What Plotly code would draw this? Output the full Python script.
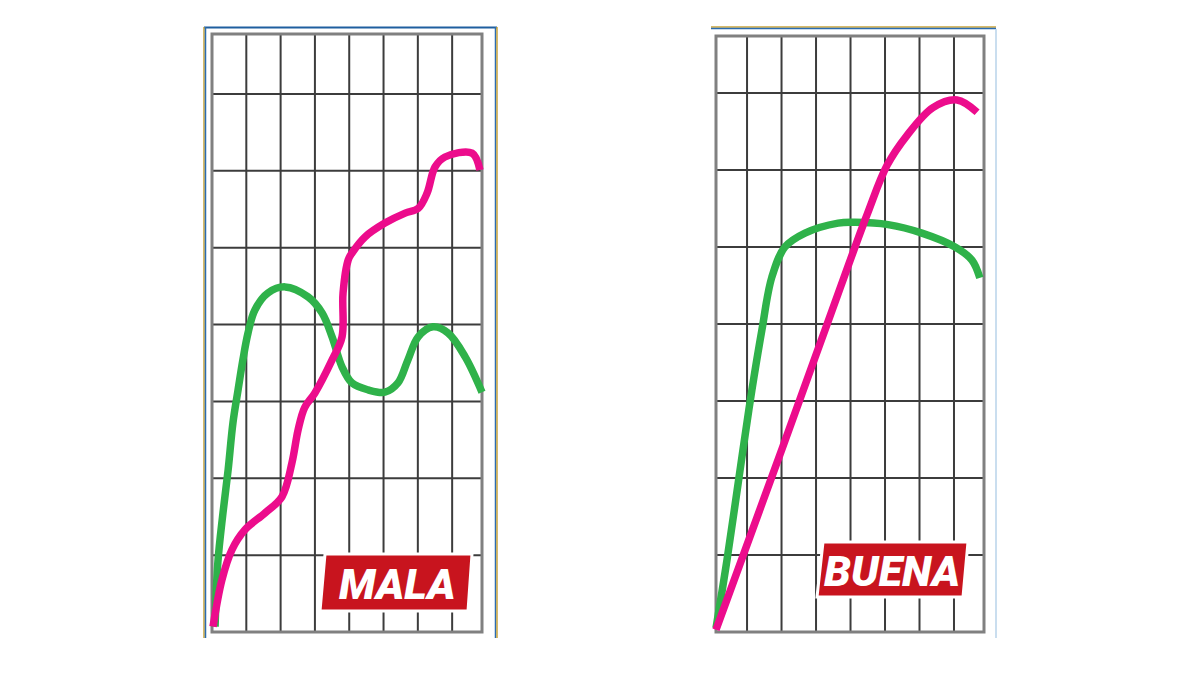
import plotly.graph_objects as go
from plotly.subplots import make_subplots

# curve readings in grid units (1 unit = one grid cell)
mala_verde_x = [0.09, 0.17, 0.32, 0.47, 0.61, 0.76, 0.90, 1.05, 1.25, 1.63, 2.13, 2.80, 3.21, 3.50,
                3.79, 4.08, 4.55, 5.04, 5.42, 5.71, 6.01, 6.44, 6.88, 7.38, 7.87]
mala_verde_y = [0.07, 0.90, 1.55, 2.11, 2.72, 3.15, 3.54, 3.89, 4.19, 4.41, 4.49, 4.36, 4.15, 3.84,
                3.45, 3.24, 3.15, 3.12, 3.24, 3.54, 3.84, 3.97, 3.89, 3.58, 3.12]
mala_rosa_x = [0.03, 0.29, 0.58, 0.96, 1.55, 2.04, 2.33, 2.51, 2.70, 3.00, 3.50, 3.79, 3.82, 3.97,
               4.08, 4.46, 5.04, 5.63, 6.01, 6.27, 6.50, 6.79, 7.58, 7.81]
mala_rosa_y = [0.07, 0.68, 1.07, 1.33, 1.55, 1.76, 2.20, 2.63, 2.92, 3.11, 3.54, 3.84, 4.41, 4.84,
               4.93, 5.14, 5.32, 5.45, 5.51, 5.71, 6.05, 6.18, 6.23, 6.01]

buena_verde_x = [0.0, 0.32, 0.78, 1.04, 1.33, 1.62, 2.00, 2.58, 3.54, 4.03, 4.99, 5.97, 6.93, 7.42, 7.65]
buena_verde_y = [0.05, 0.94, 2.36, 3.14, 3.92, 4.61, 5.00, 5.18, 5.31, 5.32, 5.29, 5.18, 5.00, 4.83, 4.60]
buena_rosa_x = [0.0, 1.94, 3.20, 4.38, 4.96, 5.54, 6.29, 6.99, 7.57]
buena_rosa_y = [0.03, 2.41, 3.97, 5.42, 6.06, 6.45, 6.81, 6.91, 6.75]

etiquetas = ["MALA", "BUENA"]

VERDE = "#2fb24a"
ROSA = "#ec0c8c"
W, H = 1200, 675
OFF = 8  # page body margin


def px(x, y):
    return (x - OFF) / W, 1 - (y - OFF) / H


fig = make_subplots(rows=1, cols=2)

fig.add_trace(go.Scatter(x=mala_verde_x, y=mala_verde_y, mode="lines", line_shape="spline",
                         line=dict(color=VERDE, width=7.5)), row=1, col=1)
fig.add_trace(go.Scatter(x=mala_rosa_x, y=mala_rosa_y, mode="lines", line_shape="spline",
                         line=dict(color=ROSA, width=7.5)), row=1, col=1)
fig.add_trace(go.Scatter(x=buena_verde_x, y=buena_verde_y, mode="lines", line_shape="spline",
                         line=dict(color=VERDE, width=7.5)), row=1, col=2)
fig.add_trace(go.Scatter(x=buena_rosa_x, y=buena_rosa_y, mode="lines", line_shape="spline",
                         line=dict(color=ROSA, width=7.5)), row=1, col=2)

ax = dict(showgrid=False, zeroline=False, showticklabels=False, ticks="", showline=False,
          fixedrange=True)

# left panel: grid 212..482 x 34..632 px, padded 6 px
fig.update_xaxes(ax, range=[-6 / 34.3, 7.87 + 6 / 34.3],
                 domain=[px(206, 0)[0], px(488, 0)[0]], row=1, col=1)
fig.update_yaxes(ax, range=[-6 / 76.9, 7.78 + 6 / 76.9],
                 domain=[px(0, 638)[1], px(0, 28)[1]], row=1, col=1)
# right panel: grid 716..984 x 36..632 px
fig.update_xaxes(ax, range=[-6 / 34.5, 7.77 + 6 / 34.5],
                 domain=[px(710, 0)[0], px(990, 0)[0]], row=1, col=2)
fig.update_yaxes(ax, range=[-6 / 77, 7.74 + 6 / 77],
                 domain=[px(0, 638)[1], px(0, 30)[1]], row=1, col=2)

shapes = []


def rejilla(xr, yr, xmax, ymax, xs, ys):
    for v in xs:
        shapes.append(dict(type="line", xref=xr, yref=yr, x0=v, x1=v, y0=0, y1=ymax,
                           line=dict(color="#3c3c3c", width=2), layer="below"))
    for v in ys:
        shapes.append(dict(type="line", xref=xr, yref=yr, x0=0, x1=xmax, y0=v, y1=v,
                           line=dict(color="#3c3c3c", width=2), layer="below"))
    shapes.append(dict(type="rect", xref=xr, yref=yr, x0=0, x1=xmax, y0=0, y1=ymax,
                       line=dict(color="#808080", width=3), layer="below"))


rejilla("x", "y", 7.87, 7.78, range(1, 8), range(1, 8))
rejilla("x2", "y2", 7.77, 7.74, [0.9 + i for i in range(7)], range(1, 8))


def linea(x0, y0, x1, y1, color, width):
    a = px(x0, y0)
    b = px(x1, y1)
    shapes.append(dict(type="line", xref="paper", yref="paper", x0=a[0], y0=a[1], x1=b[0], y1=b[1],
                       line=dict(color=color, width=width)))


# frame around left panel
linea(204, 27.5, 497, 27.5, "#1f5f9f", 2)
linea(204, 27, 204, 638, "#c9a33a", 1.5)
linea(205.5, 27, 205.5, 638, "#2b6cb0", 1.5)
linea(495.5, 27, 495.5, 638, "#2b6cb0", 1.5)
linea(497, 27, 497, 638, "#c9a33a", 1.5)
# frame around right panel
linea(711, 27, 996, 27, "#c9a33a", 1.5)
linea(711, 28.5, 996, 28.5, "#2b6cb0", 1.5)
linea(996, 29, 996, 638, "#b9d3ea", 1.5)


def caja(pts):
    p = [px(x, y) for x, y in pts]
    path = "M {} {} L {} {} L {} {} L {} {} Z".format(p[0][0], p[0][1], p[1][0], p[1][1],
                                                      p[2][0], p[2][1], p[3][0], p[3][1])
    shapes.append(dict(type="path", xref="paper", yref="paper", path=path,
                       fillcolor="#c8141e", line=dict(color="white", width=3)))


caja([(325, 554), (472, 554), (468, 611), (320, 611)])
caja([(823, 542), (968, 542), (963, 597), (817, 597)])

annotations = []
for txt, (cx, cy) in zip(etiquetas, [(397, 584), (892, 571)]):
    x, y = px(cx, cy)
    annotations.append(dict(x=x, y=y, xref="paper", yref="paper", text=txt,
                            showarrow=False, xanchor="center", yanchor="middle",
                            font=dict(family="Roboto", size=43, color="white",
                                      weight=900, style="italic")))

fig.update_layout(width=W, height=H, margin=dict(l=0, r=0, t=0, b=0),
                  paper_bgcolor="white", plot_bgcolor="white", showlegend=False,
                  shapes=shapes, annotations=annotations)

fig.write_html("out.html")
